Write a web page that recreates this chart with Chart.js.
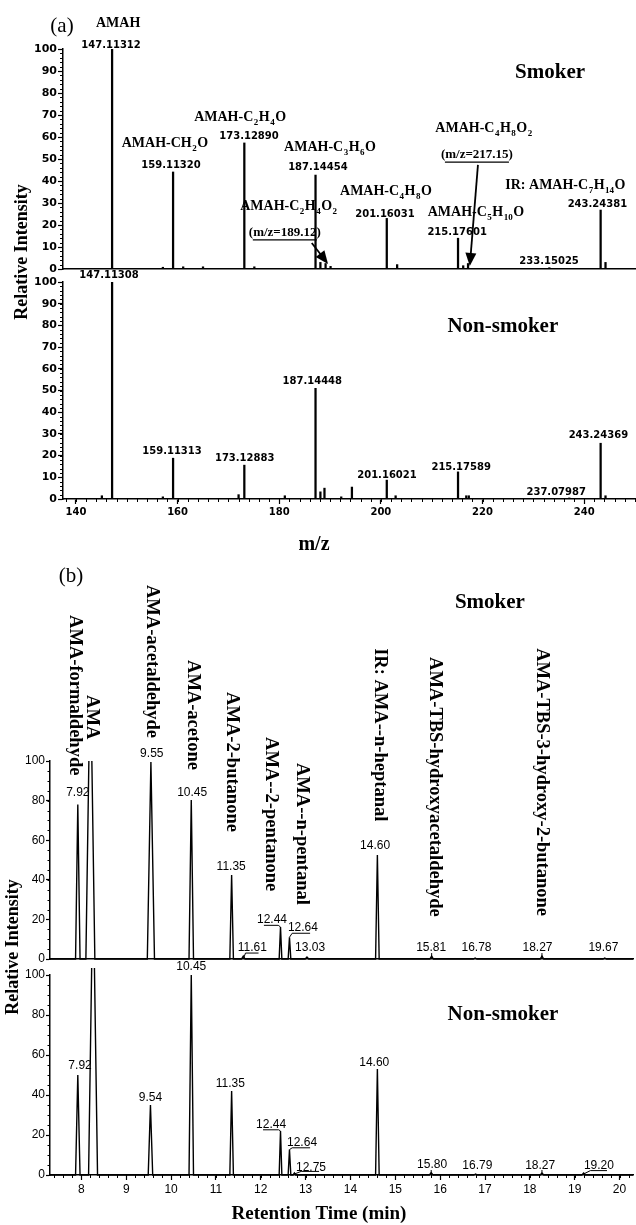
<!DOCTYPE html>
<html><head><meta charset="utf-8">
<script src="https://cdn.jsdelivr.net/npm/chart.js@4.4.1/dist/chart.umd.min.js"></script>
<style>
html,body{margin:0;padding:0;background:#fff;}
#wrap{position:relative;width:636px;height:1225px;overflow:hidden;background:#fff;}
canvas{position:absolute;left:0;top:0;}
</style></head><body>
<div id="wrap">
<canvas id="a1" width="636" height="1225"></canvas>
<canvas id="a2" width="636" height="1225"></canvas>
<canvas id="b1" width="636" height="1225"></canvas>
<canvas id="b2" width="636" height="1225"></canvas>
<canvas id="ov" width="636" height="1225"></canvas>
</div>
<script>
// ================= DATA =================
// (a) mass spectra: m/z and relative intensity
const mzSmoker  = [147.11, 157.1, 159.11, 161.1, 165.0, 173.13, 175.1, 187.14, 188.1, 189.12, 190.1, 201.16, 203.2, 215.18, 216.2, 217.15, 233.15, 243.24, 244.2];
const intSmoker = [100,    0.8,   44.1,   1.0,   1.0,   57.3,   1.0,   42.7,   3.0,   2.5,    1.2,   23.0,   2.0,   14.0,   1.5,   2.5,    0.6,    26.8,   3.0];
const mzNon     = [145.1, 147.11, 157.1, 159.11, 172.0, 173.13, 181.1, 187.14, 188.1, 188.9, 192.2, 194.3, 201.16, 202.9, 215.18, 216.8, 217.3, 237.08, 243.24, 244.2];
const intNon    = [1.5,   100,    1.0,   18.8,   2.0,   15.6,   1.5,   51.0,   3.3,   5.0,   1.0,   5.5,   8.7,    1.5,   12.5,   1.5,   1.5,   0.5,    25.7,   1.5];
const mzTicks   = [140, 160, 180, 200, 220, 240];
const intTicksA = [0, 10, 20, 30, 40, 50, 60, 70, 80, 90, 100];

// (b) chromatograms: retention time (min), peak height, peak half-width (min)
const rtSmoker = [7.92, 8.20, 9.55, 10.45, 11.35, 11.61, 12.44, 12.64, 13.03, 14.60, 15.81, 16.78, 18.27, 19.67];
const hSmoker  = [78,   150,  99.5, 80.3,  42.4,  1.5,   16.2,  11.0,  1.0,   52.5,  1.5,   0.5,   1.5,   0.5];
const wSmoker  = [0.05, 0.10, 0.08, 0.05,  0.04,  0.04,  0.03,  0.03,  0.04,  0.04,  0.04,  0.04,  0.04,  0.04];
const rtNon    = [7.92, 8.26, 9.54, 10.45, 11.35, 12.44, 12.64, 12.75, 14.60, 15.80, 16.79, 18.27, 19.20];
const hNon     = [50,   150,  35,   100,   42,    22,    12.7,  1.0,   53,    1.2,   0.5,   1.0,   1.0];
const wNon     = [0.05, 0.10, 0.05, 0.05,  0.04,  0.03,  0.03,  0.03,  0.04,  0.04,  0.04,  0.04,  0.04];
const rtTicks  = [8, 9, 10, 11, 12, 13, 14, 15, 16, 17, 18, 19, 20];
const intTicksB = [0, 20, 40, 60, 80, 100];

// annotations: [text, x (data), y (data), kind]
const a1Labels = [
  ['AMAH', 148.3, 111.8, 'form'],
  ['147.11312', 146.9, 101.8, 'numA'],
  ['AMAH-CH_2O', 157.5, 57.3, 'form'],
  ['159.11320', 158.7, 47.0, 'numA'],
  ['AMAH-C_2H_4O', 172.3, 69.1, 'form'],
  ['173.12890', 174.05, 60.3, 'numA'],
  ['AMAH-C_3H_6O', 190.0, 55.5, 'form'],
  ['187.14454', 187.6, 46.4, 'numA'],
  ['AMAH-C_2H_4O_2', 181.9, 28.6, 'form'],
  ['(m/z=189.12)', 181.1, 16.4, 'mz'],
  ['AMAH-C_4H_8O', 201.0, 35.5, 'form'],
  ['201.16031', 200.8, 25.0, 'numA'],
  ['AMAH-C_5H_{10}O', 218.7, 25.9, 'form'],
  ['215.17601', 215.0, 16.6, 'numA'],
  ['AMAH-C_4H_8O_2', 220.3, 64.0, 'form'],
  ['(m/z=217.15)', 218.9, 51.8, 'mz'],
  ['IR: AMAH-C_7H_{14}O', 236.3, 38.2, 'form'],
  ['243.24381', 242.6, 29.3, 'numA'],
  ['233.15025', 233.1, 3.6, 'numA'],
  ['Smoker', 233.3, 89.5, 'big']
];
const a1Arrows = [[186.4, 11.8, 189.6, 2.3], [219.1, 47.3, 217.5, 1.4]];
const a2Labels = [
  ['147.11308', 146.5, 103.0, 'numA'],
  ['Non-smoker', 224.0, 79.5, 'big'],
  ['187.14448', 186.5, 54.4, 'numA'],
  ['159.11313', 158.9, 21.8, 'numA'],
  ['173.12883', 173.2, 18.8, 'numA'],
  ['201.16021', 201.2, 11.0, 'numA'],
  ['215.17589', 215.8, 14.6, 'numA'],
  ['237.07987', 234.5, 3.0, 'numA'],
  ['243.24369', 242.8, 29.4, 'numA']
];
const b1Names = [
  ['AMA-formaldehyde', 7.855, 173.7],
  ['AMA', 8.234, 133.3],
  ['AMA-acetaldehyde', 9.574, 188.9],
  ['AMA-acetone', 10.49, 151.0],
  ['AMA-2-butanone', 11.36, 134.8],
  ['AMA--2-pentanone', 12.23, 112.1],
  ['AMA--n-pentanal', 12.92, 99.0],
  ['IR: AMA--n-heptanal', 14.66, 157.0],
  ['AMA-TBS-hydroxyacetaldehyde', 15.89, 152.5],
  ['AMA-TBS-3-hydroxy-2-butanone', 18.26, 157.0]
];
const b1Labels = [
  ['7.92', 7.92, 84], ['9.55', 9.57, 103.5], ['10.45', 10.47, 84], ['11.35', 11.34, 46.5],
  ['11.61', 11.81, 5.6], ['12.44', 12.25, 19.7], ['12.64', 12.94, 15.7], ['13.03', 13.10, 5.6],
  ['14.60', 14.55, 57], ['15.81', 15.80, 5.6], ['16.78', 16.81, 5.6], ['18.27', 18.17, 5.6], ['19.67', 19.64, 5.6],
  ['Smoker', 17.11, 179.8, 'big']
];
const b1Leaders = [
  [[11.61, 0], [11.66, 3.0], [11.95, 3.0]],
  [[12.07, 17.0], [12.39, 17.0], [12.44, 16.2]],
  [[12.64, 11.0], [12.70, 13.0], [13.10, 13.0]],
  [[15.81, 0], [15.81, 3.0]],
  [[18.27, 0], [18.27, 3.0]]
];
const b2Labels = [
  ['7.92', 7.97, 54.5], ['9.54', 9.54, 38.5], ['10.45', 10.45, 104], ['11.35', 11.32, 45.5],
  ['12.44', 12.23, 25.0], ['12.64', 12.92, 16.0], ['12.75', 13.12, 3.8], ['14.60', 14.53, 56.0],
  ['15.80', 15.82, 5.0], ['16.79', 16.83, 4.5], ['18.27', 18.23, 4.5], ['19.20', 19.54, 4.5],
  ['Non-smoker', 17.4, 80, 'big']
];
const b2Leaders = [
  [[12.05, 22.6], [12.40, 22.6], [12.44, 22.0]],
  [[12.64, 12.7], [12.70, 13.6], [13.10, 13.6]],
  [[12.75, 0.5], [12.90, 1.8], [13.30, 1.8]],
  [[19.20, 0.5], [19.35, 2.2], [19.72, 2.2]],
  [[15.80, 0], [15.80, 2.5]],
  [[18.27, 0], [18.27, 2.5]]
];

// ================= DRAW HELPERS =================
const SERIF = '"Liberation Serif", "Times New Roman", serif';
const SANS = '"Liberation Sans", Arial, sans-serif';
const DSANS = '"DejaVu Sans", sans-serif';

function parseRich(str) {
  const parts = []; let buf = ''; let i = 0;
  while (i < str.length) {
    if (str[i] === '_') {
      if (buf) { parts.push({ t: buf, sub: false }); buf = ''; }
      i++; let s = '';
      if (str[i] === '{') { i++; while (i < str.length && str[i] !== '}') s += str[i++]; i++; }
      else s = str[i++];
      parts.push({ t: s, sub: true });
    } else buf += str[i++];
  }
  if (buf) parts.push({ t: buf, sub: false });
  return parts;
}
function drawRich(ctx, str, cx, cy, size) {
  const main = 'bold ' + size + 'px ' + SERIF, sub = 'bold ' + Math.round(size * 0.64) + 'px ' + SERIF;
  const parts = parseRich(str);
  let w = 0;
  parts.forEach(p => { ctx.font = p.sub ? sub : main; p.w = ctx.measureText(p.t).width + (p.sub ? 1 : 0); w += p.w; });
  let x = cx - w / 2;
  ctx.textAlign = 'left'; ctx.textBaseline = 'middle';
  parts.forEach(p => { ctx.font = p.sub ? sub : main; ctx.fillText(p.t, x + (p.sub ? 0.5 : 0), p.sub ? cy + size * 0.4 : cy); x += p.w; });
}
function drawLabel(ctx, item, xs, ys) {
  const [t, xv, yv, kind] = item;
  const x = xs.getPixelForValue(xv), y = ys.getPixelForValue(yv);
  ctx.fillStyle = '#000';
  ctx.textAlign = 'center'; ctx.textBaseline = 'middle';
  if (kind === 'form') { drawRich(ctx, t, x, y, 14); return; }
  if (kind === 'numA') { ctx.font = 'bold 10px ' + DSANS; ctx.fillText(t, x, y); return; }
  if (kind === 'big') { ctx.font = 'bold 21px ' + SERIF; ctx.fillText(t, x, y); return; }
  if (kind === 'mz') {
    ctx.font = 'bold 13px ' + SERIF; ctx.fillText(t, x, y);
    const w = ctx.measureText(t).width;
    ctx.lineWidth = 1.2; ctx.strokeStyle = '#000';
    ctx.beginPath(); ctx.moveTo(x - w / 2 + 4, y + 7); ctx.lineTo(x + w / 2 - 4, y + 7); ctx.stroke();
    return;
  }
  ctx.font = '12px ' + SANS; ctx.fillText(t, x, y);
}
function drawArrow(ctx, x0, y0, x1, y1) {
  const a = Math.atan2(y1 - y0, x1 - x0), L = 13, W = 5.5;
  ctx.lineWidth = 1.8; ctx.strokeStyle = '#000'; ctx.fillStyle = '#000';
  ctx.beginPath(); ctx.moveTo(x0, y0); ctx.lineTo(x1 - L * Math.cos(a) * 0.6, y1 - L * Math.sin(a) * 0.6); ctx.stroke();
  ctx.beginPath();
  ctx.moveTo(x1, y1);
  ctx.lineTo(x1 - L * Math.cos(a) - W * Math.sin(a), y1 - L * Math.sin(a) + W * Math.cos(a));
  ctx.lineTo(x1 - L * Math.cos(a) + W * Math.sin(a), y1 - L * Math.sin(a) - W * Math.cos(a));
  ctx.closePath(); ctx.fill();
}
function decoPlugin(spec) {
  return {
    id: 'deco',
    afterDraw(chart) {
      const ctx = chart.ctx, xs = chart.scales.x, ys = chart.scales.y, ca = chart.chartArea;
      ctx.save();
      ctx.strokeStyle = '#000'; ctx.fillStyle = '#000';
      // minor ticks
      ctx.lineWidth = 1;
      if (spec.minorY) {
        const n = Math.round((ys.max - ys.min) / spec.minorY);
        ctx.beginPath();
        for (let i = 0; i <= n; i++) {
          const p = Math.round(ys.getPixelForValue(ys.min + i * spec.minorY)) + 0.5;
          ctx.moveTo(ca.left - spec.minorLenY, p); ctx.lineTo(ca.left, p);
        }
        ctx.stroke();
      }
      if (spec.minorX) {
        const s = spec.minorX, i0 = Math.ceil(xs.min / s - 1e-9), i1 = Math.floor(xs.max / s + 1e-9);
        ctx.beginPath();
        for (let i = i0; i <= i1; i++) {
          const p = Math.round(xs.getPixelForValue(i * s)) + 0.5;
          ctx.moveTo(p, ca.bottom); ctx.lineTo(p, ca.bottom + spec.minorLenX);
        }
        ctx.stroke();
      }
      (spec.labels || []).forEach(it => drawLabel(ctx, it, xs, ys));
      (spec.arrows || []).forEach(a => drawArrow(ctx, xs.getPixelForValue(a[0]), ys.getPixelForValue(a[1]), xs.getPixelForValue(a[2]), ys.getPixelForValue(a[3])));
      ctx.lineWidth = 1; ctx.strokeStyle = '#000';
      (spec.leaders || []).forEach(pl => {
        ctx.beginPath();
        pl.forEach((p, i) => { const x = xs.getPixelForValue(p[0]), y = ys.getPixelForValue(p[1]); i ? ctx.lineTo(x, y) : ctx.moveTo(x, y); });
        ctx.stroke();
      });
      (spec.names || []).forEach(n => {
        const x = xs.getPixelForValue(n[1]), y = ys.getPixelForValue(n[2]);
        ctx.save(); ctx.translate(x, y); ctx.rotate(Math.PI / 2);
        ctx.font = 'bold 18.5px ' + SERIF; ctx.textAlign = 'left'; ctx.textBaseline = 'middle';
        ctx.fillText(n[0], 0, 0); ctx.restore();
      });
      ctx.restore();
    }
  };
}

function makeChart(id, o) {
  const xFont = o.xFont, yFont = o.yFont;
  return new Chart(document.getElementById(id), {
    type: o.type,
    data: { datasets: o.datasets },
    options: {
      responsive: false, animation: false, devicePixelRatio: 1, events: [],
      layout: { padding: o.padding },
      plugins: { legend: { display: false }, tooltip: { enabled: false }, title: { display: false } },
      scales: {
        x: {
          type: 'linear', min: o.xmin, max: o.xmax, offset: false,
          afterBuildTicks: s => { s.ticks = o.xTicks.map(v => ({ value: v })); },
          afterFit: s => { s.height = o.xHeight; },
          border: { display: true, color: '#000', width: 1.5 },
          grid: { display: true, offset: false, drawOnChartArea: false, drawTicks: o.xShow, tickLength: o.xTickLen, tickWidth: 1.2, tickColor: '#000', color: '#000' },
          ticks: { display: o.xShow, font: xFont, color: '#000', padding: 2, maxRotation: 0, autoSkip: false }
        },
        y: {
          type: 'linear', min: 0, max: 100,
          afterBuildTicks: s => { s.ticks = o.yTicks.map(v => ({ value: v })); },
          afterFit: s => { s.width = o.yWidth; },
          border: { display: true, color: '#000', width: 1.5 },
          grid: { display: true, drawOnChartArea: false, drawTicks: true, tickLength: o.yTickLen, tickWidth: 1.2, tickColor: '#000', color: '#000' },
          ticks: { display: true, font: yFont, color: '#000', padding: 1, autoSkip: false }
        }
      }
    },
    plugins: [decoPlugin(o.deco)]
  });
}

function sticks(mz, inten) {
  return [{ data: mz.map((m, i) => ({ x: m, y: inten[i] })), backgroundColor: '#000', borderWidth: 0, barThickness: 1.6, grouped: false }];
}
function trace(t, h, w, start, end, clipTop) {
  const pts = [{ x: start, y: 0 }];
  t.forEach((v, i) => { pts.push({ x: v - w[i], y: 0 }, { x: v, y: h[i] }, { x: v + w[i], y: 0 }); });
  pts.push({ x: end, y: 0 });
  return [{ data: pts, borderColor: '#000', borderWidth: 1.4, pointRadius: 0, tension: 0, fill: false, clip: { left: 0, right: 0, top: clipTop, bottom: 2 } }];
}

const fontA = { family: 'DejaVu Sans', size: 11, weight: 'bold' };
const fontAx = { family: 'DejaVu Sans', size: 10, weight: 'bold' };
const fontB = { family: 'Liberation Sans', size: 12 };
const A_MIN = 137.45, A_MAX = 250.2, B_MIN = 7.3, B_MAX = 20.3;

makeChart('a1', {
  type: 'bar', datasets: sticks(mzSmoker, intSmoker),
  padding: { left: 0, right: 0, top: 49, bottom: 1225 - 269 },
  xmin: A_MIN, xmax: A_MAX, xTicks: mzTicks, xShow: false, xHeight: 0, xTickLen: 5, xFont: fontAx,
  yTicks: intTicksA, yWidth: 63, yTickLen: 5, yFont: fontA,
  deco: { minorY: 2, minorLenY: 3, labels: a1Labels, arrows: a1Arrows }
});
makeChart('a2', {
  type: 'bar', datasets: sticks(mzNon, intNon),
  padding: { left: 0, right: 0, top: 282, bottom: 1225 - 499 - 22 },
  xmin: A_MIN, xmax: A_MAX, xTicks: mzTicks, xShow: true, xHeight: 22, xTickLen: 5, xFont: fontAx,
  yTicks: intTicksA, yWidth: 63, yTickLen: 5, yFont: fontA,
  deco: { minorY: 2, minorLenY: 3, minorX: 2, minorLenX: 3, labels: a2Labels }
});
makeChart('b1', {
  type: 'line', datasets: trace(rtSmoker, hSmoker, wSmoker, B_MIN, B_MAX, 0),
  padding: { left: 0, right: 3, top: 761, bottom: 1225 - 959 },
  xmin: B_MIN, xmax: B_MAX, xTicks: rtTicks, xShow: false, xHeight: 0, xTickLen: 5, xFont: fontB,
  yTicks: intTicksB, yWidth: 50, yTickLen: 4, yFont: fontB,
  deco: { minorY: 5, minorLenY: 2.5, labels: b1Labels, leaders: b1Leaders, names: b1Names }
});
makeChart('b2', {
  type: 'line', datasets: trace(rtNon, hNon, wNon, B_MIN, B_MAX, 7),
  padding: { left: 0, right: 3, top: 975, bottom: 1225 - 1175 - 22 },
  xmin: B_MIN, xmax: B_MAX, xTicks: rtTicks, xShow: true, xHeight: 22, xTickLen: 5, xFont: fontB,
  yTicks: intTicksB, yWidth: 50, yTickLen: 4, yFont: fontB,
  deco: { minorY: 5, minorLenY: 2.5, minorX: 0.2, minorLenX: 3, labels: b2Labels, leaders: b2Leaders }
});

// static titles
(function () {
  const ctx = document.getElementById('ov').getContext('2d');
  ctx.fillStyle = '#000'; ctx.textAlign = 'center'; ctx.textBaseline = 'middle';
  ctx.font = '21px ' + SERIF; ctx.fillText('(a)', 62, 26); ctx.fillText('(b)', 71, 576);
  ctx.font = 'bold 20px ' + SERIF; ctx.fillText('m/z', 314, 545);
  ctx.font = 'bold 19px ' + SERIF; ctx.fillText('Retention Time (min)', 319, 1214);
  ctx.font = 'bold 18px ' + SERIF;
  [[22, 252], [13, 947]].forEach(p => {
    ctx.save(); ctx.translate(p[0], p[1]); ctx.rotate(-Math.PI / 2); ctx.fillText('Relative Intensity', 0, 0); ctx.restore();
  });
})();
</script>
</body></html>
